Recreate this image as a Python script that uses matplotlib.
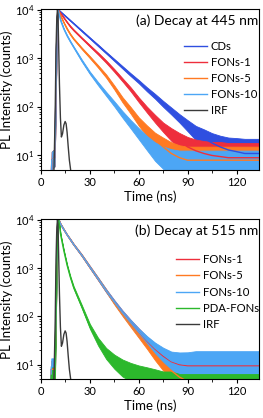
import numpy as np
import matplotlib.pyplot as plt
from matplotlib.ticker import MultipleLocator

plt.rcParams['font.family'] = ['Lato', 'DejaVu Sans']
plt.rcParams['mathtext.fontset'] = 'custom'
plt.rcParams['mathtext.rm'] = 'Lato'

# ---- panel (a): decay at 445 nm ----
ta = [6.3, 6.6, 8.3, 8.9, 9.5, 10.0, 10.5, 12, 14, 16, 18, 20, 25, 30, 35, 40, 45,
      50, 55, 60, 65, 70, 75, 80, 85, 90, 95, 100, 105, 110, 115, 120, 125, 130, 134]

cds = [3, 8, 9, 60, 1500, 6500, 10000, 9000, 7850, 6840, 5960, 5190, 3670, 2600, 1840,
       1300, 920, 650, 460, 330, 230, 165, 115, 82, 58, 41, 29, 23, 18, 15, 13, 12, 11, 11, 11]
cds_sp = [1.6, 1.5, 1.5, 1.2, 1.05, 1.03, 1.02, 1.02, 1.02, 1.02, 1.02, 1.02, 1.03, 1.03,
          1.04, 1.04, 1.05, 1.06, 1.07, 1.08, 1.10, 1.12, 1.15, 1.18, 1.22, 1.30, 1.40,
          1.5, 1.6, 1.7, 1.8, 1.9, 2.0, 2.0, 2.0]

fons1_a = [3, 8, 9, 60, 1500, 6500, 10000, 8500, 6800, 5500, 4500, 3800, 2600, 1800, 1250,
           850, 560, 360, 230, 140, 88, 57, 38, 27, 20, 15, 12.5, 11, 10, 9.5, 9, 9, 9, 9, 9]
fons1_a_sp = [1.6, 1.5, 1.5, 1.2, 1.05, 1.03, 1.02, 1.02, 1.02, 1.02, 1.03, 1.03, 1.03,
              1.04, 1.05, 1.06, 1.07, 1.08, 1.10, 1.12, 1.15, 1.2, 1.25, 1.35, 1.45, 1.6,
              1.7, 1.8, 1.9, 2.0, 2.0, 2.0, 2.0, 2.0, 2.0]

fons5_a = [3, 8, 9, 60, 1500, 6500, 10000, 7500, 5400, 4000, 3100, 2500, 1600, 1050, 680,
           430, 250, 140, 85, 50, 32, 21, 15, 11, 9, 8, 8, 8, 8, 8, 8, 8, 8, 8, 8]
fons5_a_sp = [1.6, 1.5, 1.5, 1.2, 1.05, 1.03, 1.02, 1.02, 1.02, 1.03, 1.03, 1.03, 1.04,
              1.05, 1.06, 1.08, 1.10, 1.13, 1.17, 1.22, 1.3, 1.4, 1.55, 1.7, 1.8, 1.9,
              1.9, 1.9, 1.9, 1.9, 1.9, 1.9, 1.9, 1.9, 1.9]

fons10_a = [3, 8, 9, 60, 1500, 6500, 10000, 6000, 4000, 2900, 2200, 1700, 900, 500, 300,
            185, 115, 70, 44, 28, 18, 12, 9, 7.5, 7, 7, 7, 7, 7, 7, 7, 7, 7, 7, 7]
fons10_a_sp = [1.6, 1.5, 1.5, 1.2, 1.05, 1.03, 1.02, 1.02, 1.02, 1.03, 1.03, 1.03, 1.05,
               1.06, 1.08, 1.10, 1.13, 1.17, 1.22, 1.3, 1.4, 1.55, 1.7, 1.8, 1.8, 1.8,
               1.8, 1.8, 1.8, 1.8, 1.8, 1.8, 1.8, 1.8, 1.8]

# instrument response, same in both panels
t_irf = [7.0, 8.0, 8.7, 9.2, 9.7, 10.1, 10.4, 10.8, 11.3, 11.9, 12.5, 13.2, 14.0, 14.8,
         15.4, 16.0, 16.7, 17.4, 18.2, 19.0]
irf = [1, 6, 80, 1500, 7000, 10000, 8000, 2000, 300, 60, 24, 28, 42, 50, 45, 30, 15, 8, 5, 3]

# ---- panel (b): decay at 515 nm ----
tb = [6.0, 6.3, 8.5, 9.0, 9.6, 10.3, 10.9, 12, 14, 16, 18, 20, 25, 30, 35, 40, 45,
      50, 55, 60, 65, 70, 75, 80, 85, 90, 95, 100, 105, 110, 115, 120, 125, 130, 134]

fons1_b = [3, 8, 8, 50, 1200, 6000, 10000, 8200, 6300, 4900, 3900, 3100, 1850, 1050, 600,
           340, 200, 120, 75, 48, 31, 21, 15, 11.5, 10, 9.5, 9.5, 9.5, 9.5, 9.5, 9.5,
           9.5, 9.5, 9.5, 9.5]
fons5_b = [3, 8, 8, 50, 1200, 6000, 10000, 8200, 6300, 4900, 3900, 3100, 1850, 1050, 600,
           340, 190, 112, 68, 42, 26, 16, 10.5, 7.5, 5.5, 4.5, 4, 4, 4, 4, 4, 4, 4, 4, 4]
fons10_b = [3, 9, 9, 50, 1200, 6000, 10000, 8200, 6300, 4900, 3900, 3100, 1850, 1050, 600,
            340, 200, 120, 75, 48, 32, 22, 16, 12, 10.5, 10, 10, 10, 10, 10, 10, 10, 10,
            10, 10]
pda_b = [3, 6, 6, 40, 1200, 6000, 10000, 5000, 2300, 1150, 650, 400, 160, 62, 30, 17, 11.5,
         8.5, 7, 6, 5.5, 5, 4.5, 4.5, 4, 4, 4, 4, 4, 4, 4, 4, 4, 4, 4]

sp_b = [1.6, 1.5, 1.5, 1.2, 1.05, 1.03, 1.02, 1.02, 1.02, 1.02, 1.03, 1.03, 1.04, 1.05,
        1.06, 1.07, 1.08, 1.10, 1.13, 1.17, 1.22, 1.3, 1.4, 1.55, 1.7, 1.8, 1.9, 1.9, 1.9,
        1.9, 1.9, 1.9, 1.9, 1.9, 1.9]
pda_sp = [1.6, 1.5, 1.5, 1.2, 1.05, 1.03, 1.02, 1.02, 1.03, 1.04, 1.05, 1.06, 1.08, 1.12,
          1.2, 1.3, 1.4, 1.5, 1.55, 1.6, 1.6, 1.6, 1.6, 1.6, 1.6, 1.6, 1.6, 1.6, 1.6, 1.6,
          1.6, 1.6, 1.6, 1.6, 1.6]

C_CDS = '#2f4fe0'
C_F1 = '#ee2e3c'
C_F5 = '#ff7a22'
C_F10 = '#4ca6f5'
C_PDA = '#2cb82c'
C_IRF = '#3a3a3a'


def draw(ax, t, c, sp, color, label):
    t = np.array(t)
    c = np.array(c, dtype=float)
    sp = np.array(sp)
    ax.fill_between(t, c / sp, c * sp, color=color, lw=0.6, edgecolor=color)
    ax.plot(t, c, color=color, lw=1.0, label=label)


fig = plt.figure(figsize=(2.63, 4.18), dpi=100)
ax1 = fig.add_axes([0.156, 0.593, 0.830, 0.385])
ax2 = fig.add_axes([0.156, 0.093, 0.830, 0.382])

draw(ax1, ta, cds, cds_sp, C_CDS, 'CDs')
draw(ax1, ta, fons1_a, fons1_a_sp, C_F1, 'FONs-1')
draw(ax1, ta, fons5_a, fons5_a_sp, C_F5, 'FONs-5')
draw(ax1, ta, fons10_a, fons10_a_sp, C_F10, 'FONs-10')
ax1.plot(t_irf, irf, color=C_IRF, lw=1.0, label='IRF')

draw(ax2, tb, fons1_b, sp_b, C_F1, 'FONs-1')
draw(ax2, tb, fons5_b, sp_b, C_F5, 'FONs-5')
draw(ax2, tb, fons10_b, sp_b, C_F10, 'FONs-10')
draw(ax2, tb, pda_b, pda_sp, C_PDA, 'PDA-FONs')
ax2.plot(t_irf, irf, color=C_IRF, lw=1.0, label='IRF')

for ax, txt, ly, lx in [(ax1, '(a) Decay at 445 nm', 0.57, 0.655),
                        (ax2, '(b) Decay at 515 nm', 0.545, 0.62)]:
    ax.set_yscale('log')
    ax.set_ylim(5, 1.02e4)
    ax.set_xlim(0, 134)
    ax.set_xticks([0, 30, 60, 90, 120])
    ax.xaxis.set_minor_locator(MultipleLocator(15))
    ax.tick_params(labelsize=8, length=3, width=0.8, pad=2)
    ax.tick_params(which='minor', length=1.8, width=0.6)
    ax.set_xlabel('Time (ns)', fontsize=9.5, labelpad=2)
    ax.set_ylabel('PL Intensity (counts)', fontsize=9.5, labelpad=1)
    ax.text(0.995, 0.927, txt, transform=ax.transAxes, ha='right', va='center',
            fontsize=10)
    ax.legend(loc='center left', bbox_to_anchor=(lx, ly), frameon=False, fontsize=8.2,
              handlelength=2.0, handletextpad=0.35, labelspacing=0.45, borderpad=0,
              borderaxespad=0)
    for s in ax.spines.values():
        s.set_linewidth(0.8)

fig.savefig('out.png', dpi=100)
